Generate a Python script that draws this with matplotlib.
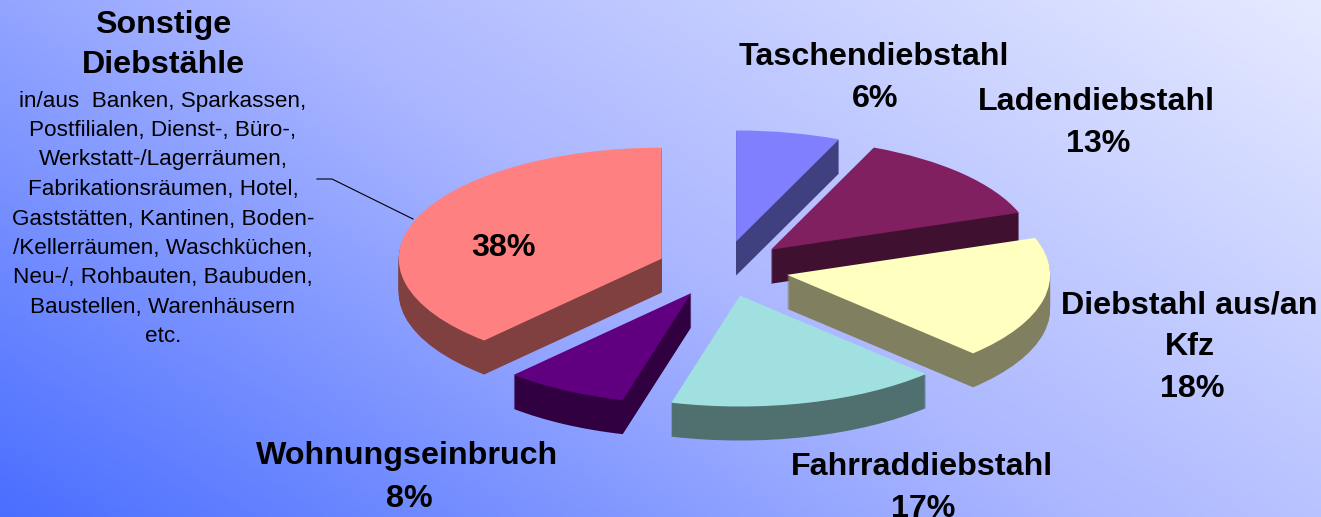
import numpy as np
import matplotlib
matplotlib.use("Agg")
import matplotlib.pyplot as plt
from matplotlib.colors import LinearSegmentedColormap, to_rgb

W, H = 1321, 517
categories = ["Taschendiebstahl", "Ladendiebstahl", "Diebstahl aus/an Kfz",
              "Fahrraddiebstahl", "Wohnungseinbruch", "Sonstige Diebstähle"]
values = [6.4, 13.2, 17.9, 16.7, 7.6, 38.2]
colors = ["#8080FF", "#802060", "#FFFFC0", "#A0E0E0", "#600080", "#FF8080"]
draw_rank = [0, 1, 3, 5, 4, 2]
explode = [0.25] * len(values)

detail_lines = ["in/aus  Banken, Sparkassen,", "Postfilialen, Dienst-, Büro-,",
                "Werkstatt-/Lagerräumen,", "Fabrikationsräumen, Hotel,",
                "Gaststätten, Kantinen, Boden-", "/Kellerräumen, Waschküchen,",
                "Neu-/, Rohbauten, Baubuden,", "Baustellen, Warenhäusern", "etc."]

plt.rcParams["font.family"] = ["Liberation Sans", "DejaVu Sans"]
fig = plt.figure(figsize=(W / 100, H / 100), dpi=100)


def fx(px):
    return px / W


def fy(py):
    return 1 - py / H


# background gradient
bg = fig.add_axes([0, 0, 1, 1], zorder=0)
yy, xx = np.mgrid[0:1:200j, 0:1:500j]
grad = (xx * 0.62 + yy * 0.38)
cmap = LinearSegmentedColormap.from_list("bg", ["#4A6EFF", "#AAB6FF", "#E6EAFF"])
bg.imshow(grad, origin="lower", aspect="auto", cmap=cmap, extent=[0, 1, 0, 1], vmin=0, vmax=1)
bg.axis("off")

# pie: one data unit = 263 px in x and 111 px in y, centre at (723, 268.7)
ax = fig.add_axes([0, 0, 1, 1], zorder=1)
ax.patch.set_visible(False)
RX, RY, CX, CY = 263.0, 111.0, 723.0, 268.7
DEPTH = 34 / RY


def dark(c):
    return tuple(v * 0.5 for v in to_rgb(c))


dark_colors = [dark(c) for c in colors]
layers = np.linspace(DEPTH, 0, 35)
for li, d in enumerate(layers):
    top = li == len(layers) - 1
    wedges, _ = ax.pie(values, explode=explode, colors=colors if top else dark_colors,
                       startangle=90, counterclock=False, radius=1, center=(0, -d),
                       wedgeprops={"linewidth": 0})
    for i, w in enumerate(wedges):
        w.set_zorder(2 + draw_rank[i] + li / 100)
ax.set_aspect("auto")
ax.set_xlim(-CX / RX, (W - CX) / RX)
ax.set_ylim(-(H - CY) / RY, CY / RY)
ax.axis("off")

# leader line
fig.add_artist(plt.Line2D([fx(317), fx(332), fx(413)], [fy(179), fy(179), fy(219)],
                          color="black", lw=0.8))

# labels
BIG = 23.2
SMALL = 16.2
big_labels = [("Sonstige", 163, 25), ("Diebstähle", 163, 65),
              ("Taschendiebstahl", 874, 57), ("6%", 875, 99),
              ("Ladendiebstahl", 1096, 102), ("13%", 1098, 144),
              ("Diebstahl aus/an", 1189, 305), ("Kfz", 1190, 347), ("18%", 1192, 389),
              ("Fahrraddiebstahl", 922, 467), ("17%", 923, 509),
              ("Wohnungseinbruch", 407, 456), ("8%", 409, 499),
              ("38%", 503, 248)]
for s, x, y in big_labels:
    fig.text(fx(x), fy(y), s, ha="center", va="center", fontsize=BIG,
             fontweight="bold", color="black", zorder=5)
for i, s in enumerate(detail_lines):
    fig.text(fx(163), fy(101 + i * 29.5), s, ha="center", va="center",
             fontsize=SMALL, color="black", zorder=5)

fig.savefig("out.png", dpi=100)
